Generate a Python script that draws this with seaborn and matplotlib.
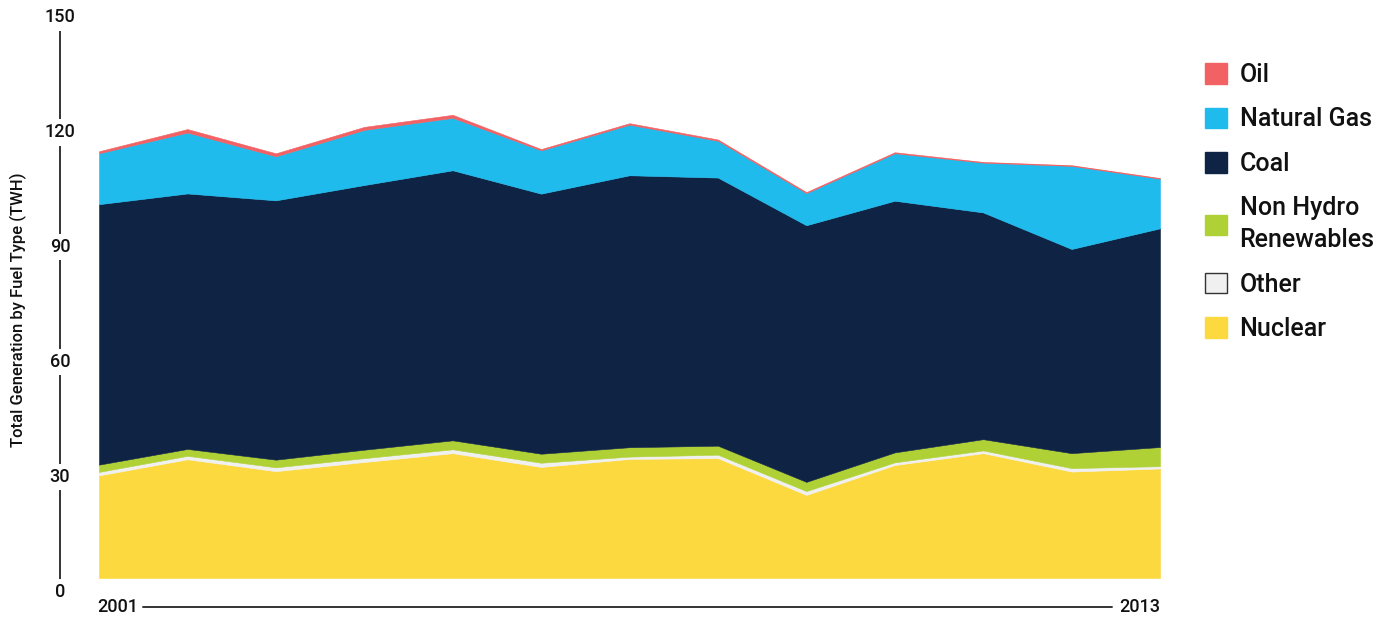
import seaborn as sns
import matplotlib.pyplot as plt
from matplotlib.patches import Patch
from matplotlib.transforms import blended_transform_factory

# --- data (TWh) ---
years = list(range(2001, 2014))
nuclear = [26.8, 31.0, 27.9, 30.3, 32.6, 29.0, 31.1, 31.3, 21.7, 29.5, 32.6, 27.8, 28.6]
other = [0.9, 0.9, 1.0, 1.0, 1.0, 1.1, 0.6, 0.9, 1.0, 0.7, 0.7, 0.9, 0.6]
non_hydro = [1.9, 1.8, 2.0, 2.2, 2.35, 2.35, 2.45, 2.35, 2.4, 2.6, 2.95, 3.9, 5.0]
coal = [68.0, 66.7, 67.7, 69.1, 70.5, 67.9, 71.0, 70.0, 67.0, 65.7, 59.2, 53.3, 57.1]
natural_gas = [13.3, 15.9, 11.5, 14.4, 13.7, 11.3, 13.2, 9.6, 8.4, 12.4, 13.0, 21.7, 12.95]
oil = [0.52, 0.91, 0.78, 0.78, 0.78, 0.34, 0.39, 0.34, 0.26, 0.26, 0.18, 0.18, 0.18]

y_ticks = [0, 30, 60, 90, 120, 150]
series_names = ["Nuclear", "Other", "Non Hydro\nRenewables", "Coal", "Natural Gas", "Oil"]
colors = ["#fdd940", "#f0f0f0", "#b0d136", "#0f2444", "#20bbed", "#f26163"]

sns.set_theme(style="white")
plt.rcParams["font.family"] = ["Roboto", "DejaVu Sans"]

fig = plt.figure(figsize=(13.9, 6.2), dpi=100)
ax = fig.add_axes([99 / 1390, 0.043, (1160 - 99) / 1390, 0.9514])

stack = [nuclear, other, non_hydro, coal, natural_gas, oil]
ax.stackplot(years, *stack, colors=colors, edgecolor="face", linewidth=0.4)

ax.set_xlim(2001, 2013)
ax.set_ylim(-4, 150)
ax.set_xticks([])
ax.set_yticks([])
for s in ax.spines.values():
    s.set_visible(False)

# --- custom y axis: vertical rule interrupted by the labels ---
label_shift = -3.66  # labels sit slightly below their data level in the original
trans = blended_transform_factory(fig.transFigure, ax.transData)
x_axis = 60 / 1390
ax.plot([x_axis, x_axis], [0 + label_shift, 150 + label_shift], transform=trans,
        color="#333333", lw=1.4, clip_on=False, zorder=1)
for t in y_ticks:
    ax.text(x_axis, t + label_shift, str(t), transform=trans, ha="center", va="center",
            fontsize=13, fontweight="medium", color="#111111", zorder=2,
            bbox=dict(facecolor="white", edgecolor="none", pad=3))

fig.text(18 / 1390, 0.5, "Total Generation by Fuel Type (TWH)", rotation=90,
         ha="center", va="center", fontsize=12, fontweight="medium", color="#111111")

# --- x axis: start / end years joined by a rule ---
y_x = 1 - 607 / 620
fig.text(118 / 1390, y_x, str(years[0]), ha="center", va="center", fontsize=13,
         fontweight="medium", color="#111111")
fig.text(1140 / 1390, y_x, str(years[-1]), ha="center", va="center", fontsize=13,
         fontweight="medium", color="#111111")
fig.add_artist(plt.Line2D([143 / 1390, 1112 / 1390], [y_x, y_x], color="#333333", lw=1.4))

# --- legend ---
handles = []
for name, c in zip(series_names, colors):
    ec = "#333333" if name == "Other" else c
    handles.append(Patch(facecolor=c, edgecolor=ec, linewidth=1.0, label=name))
handles = handles[::-1]
leg = fig.legend(handles=handles, loc="upper left", bbox_to_anchor=(1195 / 1390, 1 - 53 / 620),
                 frameon=False, fontsize=18, handlelength=0.88, handleheight=0.88,
                 handletextpad=0.5, labelspacing=0.82, borderaxespad=0)
for txt in leg.get_texts():
    txt.set_fontweight("medium")
    txt.set_color("#111111")
    txt.set_linespacing(1.4)

fig.savefig("out.png", dpi=100)
